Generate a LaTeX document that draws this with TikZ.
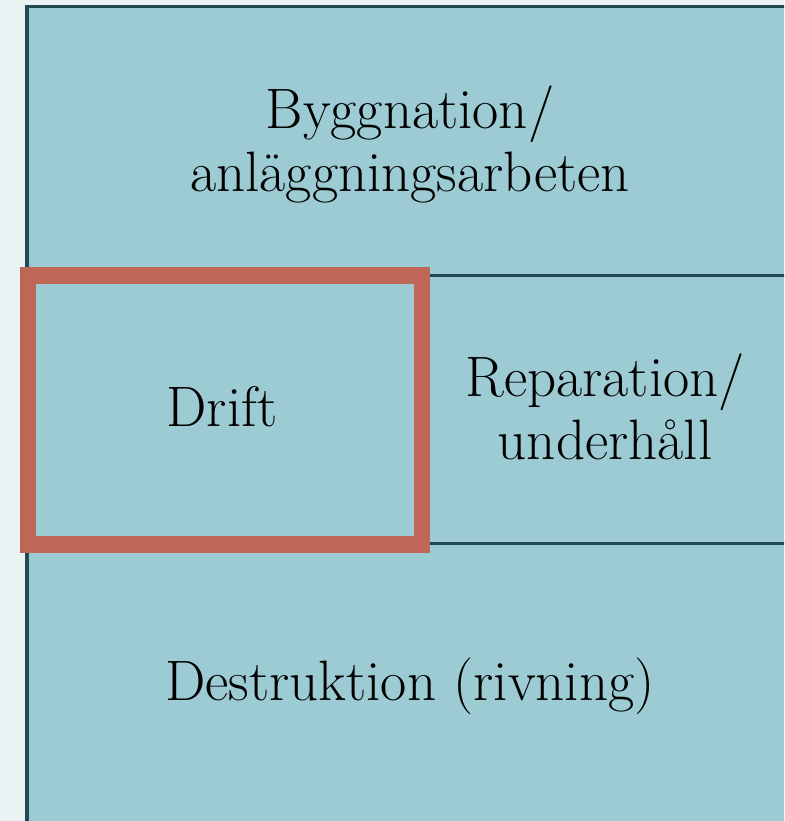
\documentclass[tikz,border=0pt]{standalone}
\definecolor{bgc}{HTML}{EAF2F4}
\definecolor{cellc}{HTML}{9CCBD3}
\definecolor{edgec}{HTML}{1F4A50}
\definecolor{redc}{HTML}{BF6757}
\tikzset{
  lbl/.style={align=center, font=\fontsize{57}{63}\selectfont, text=black, inner sep=0pt},
  divider/.style={draw=edgec, line width=3.5pt},
  highlight/.style={draw=redc, line width=16.5pt},
}
\begin{document}
\begin{tikzpicture}[x=1pt,y=-1pt]
\useasboundingbox (0,0) rectangle (784,821);
\fill[bgc] (0,0) rectangle (784,821);
\begin{scope}
\clip (0,0) rectangle (784,821);
\coordinate (tl) at (27,6.5);
\coordinate (br) at (793,826);
\filldraw[fill=cellc, divider] (tl) rectangle (br);
\coordinate (r1l) at (27,275.5);
\coordinate (r1r) at (793,275.5);
\coordinate (r2l) at (27,543.5);
\coordinate (r2r) at (793,543.5);
\coordinate (vt) at (422,275.5);
\coordinate (vb) at (422,543.5);
\draw[divider] (r1l) -- (r1r);
\draw[divider] (r2l) -- (r2r);
\draw[divider] (vt) -- (vb);
\node[lbl] (bygg) at (410,144) {Byggnation/\\anläggningsarbeten};
\node[lbl] (drift) at (222,407) {Drift};
\node[lbl] (rep) at (605,407) {Reparation/\\underhåll};
\node[lbl] (dest) at (410,686) {Destruktion (rivning)};
\coordinate (hl) at (28,275.5);
\coordinate (hr) at (422,544.5);
\draw[highlight] (hl) rectangle (hr);
\end{scope}
\end{tikzpicture}
\end{document}
